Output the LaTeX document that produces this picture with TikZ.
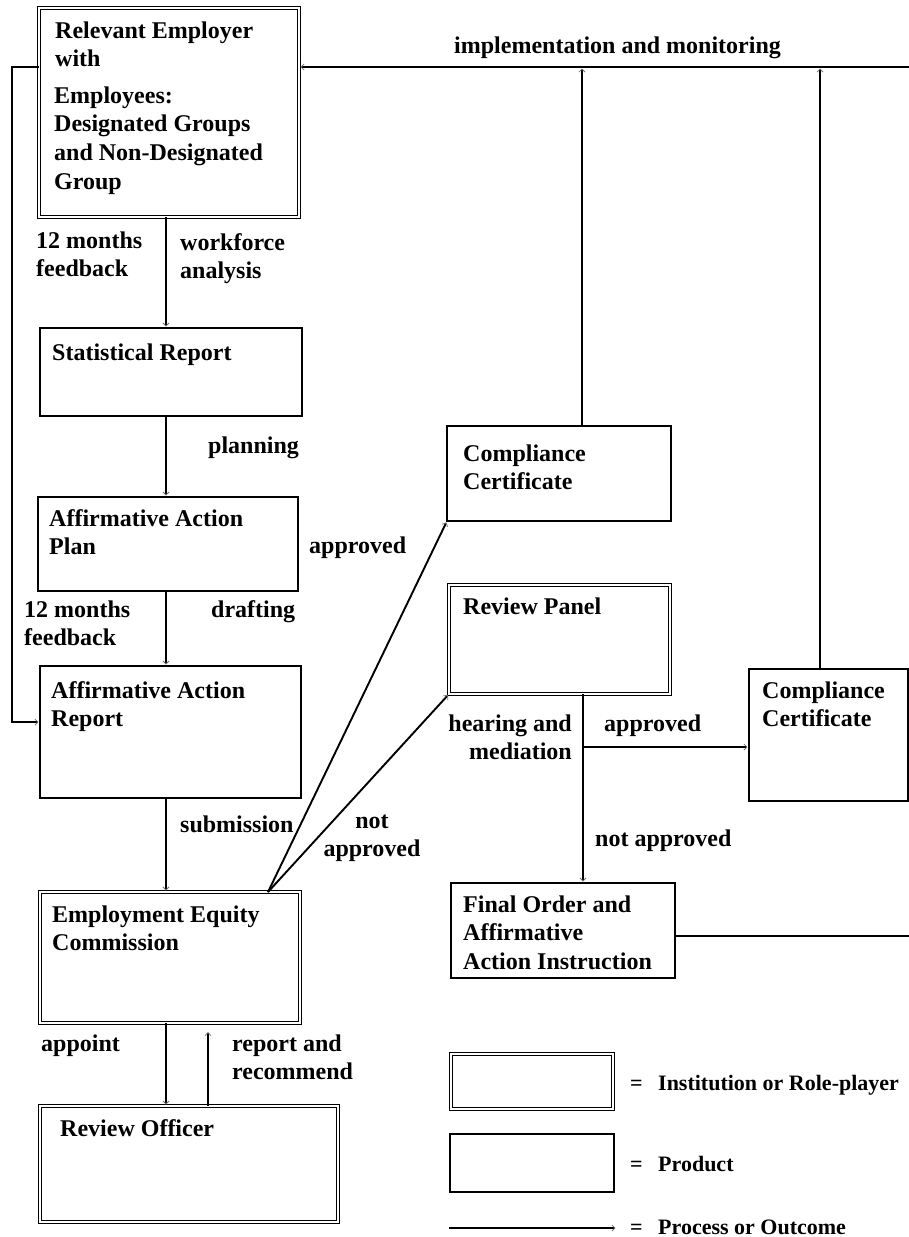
\documentclass[tikz,border=0pt]{standalone}
\usepackage{fontspec}
\setmainfont{Liberation Serif}
\usetikzlibrary{arrows.meta}
\newcommand{\st}{\rule{0pt}{19pt}}
\begin{document}
\begin{tikzpicture}[x=1pt,y=-1pt,
  inst/.style={draw, double, double distance=1.8pt, line width=1.2pt, outer sep=0pt, inner sep=0pt, anchor=north west},
  prod/.style={draw, line width=2.6pt, outer sep=0pt, inner sep=0pt, anchor=north west},
  txt/.style={anchor=north west, inner sep=0pt, align=left, font=\fontsize{24}{28.7}\selectfont\bfseries},
  legtxt/.style={anchor=north west, inner sep=0pt, align=left, font=\fontsize{22}{26}\selectfont\bfseries},
  conn/.style={line width=1.9pt},
  arr/.style={conn, shorten >=1.5pt, -{Straight Barb[length=3pt,width=6pt,line width=0.8pt,color=black!55]}},
]
\useasboundingbox (0,0) rectangle (909,1237);

% helper coordinates
\coordinate (spine) at (166,0);
\coordinate (ty) at (0,67);
\coordinate (lx) at (12,722);
\coordinate (re) at (909,67);
\coordinate (c1x) at (582,0);
\coordinate (c2x) at (820,0);
\coordinate (fr) at (909,936);
\coordinate (rx) at (583,0);
\coordinate (bj) at (583,747);
\coordinate (ejx) at (268,0);
\coordinate (rx2) at (208,0);
\coordinate (lg1) at (449,1228);
\coordinate (lg2) at (617,1228);

% boxes
\node[inst, minimum width=260pt, minimum height=209pt] (emp) at (39,8) {};
\node[prod, minimum width=262pt, minimum height=88pt] (stat) at (40,328) {};
\node[prod, minimum width=260pt, minimum height=94pt] (aap) at (38,497) {};
\node[prod, minimum width=261pt, minimum height=132pt] (aar) at (40,666) {};
\node[inst, minimum width=260pt, minimum height=131pt] (eec) at (40,892) {};
\node[inst, minimum width=298pt, minimum height=116pt] (ro) at (40,1106) {};
\node[prod, minimum width=224pt, minimum height=95pt] (cc1) at (447,426) {};
\node[inst, minimum width=221pt, minimum height=109pt] (rp) at (449,585) {};
\node[prod, minimum width=159pt, minimum height=132pt] (cc2) at (749,669) {};
\node[prod, minimum width=224pt, minimum height=95pt] (fo) at (451,883) {};
\node[inst, minimum width=162pt, minimum height=55pt] (li) at (451,1054) {};
\node[prod, minimum width=164pt, minimum height=58pt] (lp) at (450,1134) {};

% box texts
\node[txt] (empt1) at (55,19) {\st Relevant Employer\\with};
\node[txt] (empt2) at (54,84) {\st Employees:\\Designated Groups\\and Non-Designated\\Group};
\node[txt] (statt) at (52,341) {\st Statistical Report};
\node[txt] (aapt) at (49,507) {\st Affirmative Action\\Plan};
\node[txt] (aart) at (51,679) {\st Affirmative Action\\Report};
\node[txt] (eect) at (52,903) {\st Employment Equity\\Commission};
\node[txt] (rot) at (60,1117) {\st Review Officer};
\node[txt] (cc1t) at (463,442) {\st Compliance\\Certificate};
\node[txt] (rpt) at (463,595) {\st Review Panel};
\node[txt] (cc2t) at (762,679) {\st Compliance\\Certificate};
\node[txt] (fot) at (463,893) {\st Final Order and\\Affirmative\\Action Instruction};

% connector labels
\node[txt] (fb1) at (36,229) {\st 12 months\\feedback};
\node[txt] (wa) at (180,231) {\st workforce\\analysis};
\node[txt] (plan) at (208,434) {\st planning};
\node[txt] (appr1) at (309,534) {\st approved};
\node[txt] (fb2) at (24,598) {\st 12 months\\feedback};
\node[txt] (draft) at (211,598) {\st drafting};
\node[txt] (sub) at (180,813) {\st submission};
\node[txt, anchor=north, align=center] (notap) at (372,809) {\st not\\approved};
\node[txt] (impl) at (454,34) {\st implementation and monitoring};
\node[txt, anchor=north east, align=right] (hear) at (572,712) {\st hearing and\\mediation};
\node[txt] (appr2) at (604,712) {\st approved};
\node[txt] (notap2) at (595,827) {\st not approved};
\node[txt] (appoint) at (41,1032) {\st appoint};
\node[txt] (rep) at (232,1032) {\st report and\\recommend};

% legend texts
\node[legtxt] (eq1) at (630,1071) {\st =};
\node[legtxt] (l1t) at (658,1071) {\st Institution or Role-player};
\node[legtxt] (eq2) at (630,1152) {\st =};
\node[legtxt] (l2t) at (658,1152) {\st Product};
\node[legtxt] (eq3) at (630,1215) {\st =};
\node[legtxt] (l3t) at (658,1215) {\st Process or Outcome};

% connectors
\draw[arr] (emp.south -| spine) -- (stat.north -| spine);
\draw[arr] (stat.south -| spine) -- (aap.north -| spine);
\draw[arr] (aap.south -| spine) -- (aar.north -| spine);
\draw[arr] (aar.south -| spine) -- (eec.north -| spine);
\draw[arr] (emp.west |- ty) -| (lx) -- (aar.west |- lx);
\draw[arr] (re) -- (emp.east |- re);
\draw[arr] (cc1.north -| c1x) -- (c1x |- ty);
\draw[arr] (cc2.north -| c2x) -- (c2x |- ty);
\draw[conn] (fo.east |- fr) -- (fr);
\draw[arr] (rp.south -| rx) -- (fo.north -| rx);
\draw[arr] (bj) -- (cc2.west |- bj);
\draw[arr] (eec.north -| ejx) -- (cc1.south west);
\draw[arr] (eec.north -| ejx) -- (rp.south west);
\draw[arr] (eec.south -| spine) -- (ro.north -| spine);
\draw[arr, shorten >=9pt] (ro.north -| rx2) -- (eec.south -| rx2);
\draw[arr] (lg1) -- (lg2);
\end{tikzpicture}
\end{document}
